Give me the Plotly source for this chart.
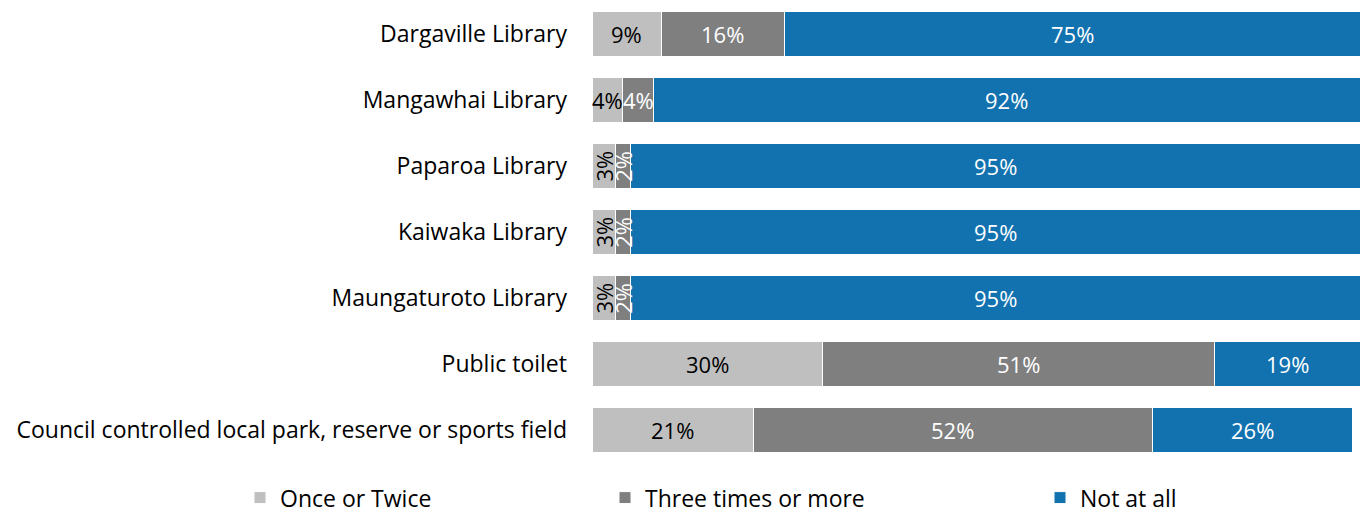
import plotly.graph_objects as go

categories = [
    "Dargaville Library",
    "Mangawhai Library",
    "Paparoa Library",
    "Kaiwaka Library",
    "Maungaturoto Library",
    "Public toilet",
    "Council controlled local park, reserve or sports field",
]
once_or_twice = [9, 4, 3, 3, 3, 30, 21]
three_or_more = [16, 4, 2, 2, 2, 51, 52]
not_at_all = [75, 92, 95, 95, 95, 19, 26]

series_names = ["Once or Twice", "Three times or more", "Not at all"]
series_values = [once_or_twice, three_or_more, not_at_all]
series_colors = ["#BFBFBF", "#7F7F7F", "#1272B0"]
label_colors = ["#000000", "#FFFFFF", "#FFFFFF"]

FONT = "Open Sans"

fig = go.Figure()
legend_ids = ["legend", "legend2", "legend3"]
for name, vals, col, lid in zip(series_names, series_values, series_colors, legend_ids):
    fig.add_trace(go.Bar(
        y=categories, x=vals, name=name, orientation="h",
        marker=dict(color=col, line=dict(color="white", width=1)),
        legend=lid, hoverinfo="x+y+name",
    ))

# value labels centred in each segment; narrow segments get vertical text
annotations = []
for i, cat in enumerate(categories):
    start = 0
    for vals, tcol in zip(series_values, label_colors):
        v = vals[i]
        annotations.append(dict(
            x=start + v / 2, y=cat, xref="x", yref="y",
            text=f"{v}%", showarrow=False,
            textangle=-90 if v <= 3 else 0,
            font=dict(family=FONT, size=22, color=tcol),
        ))
        start += v

legend_common = dict(
    orientation="h", yanchor="middle", xanchor="left",
    font=dict(family=FONT, size=23, color="#000000"),
    bgcolor="rgba(0,0,0,0)", itemwidth=30, tracegroupgap=0,
    borderwidth=0,
)
leg_y = -0.075
fig.update_layout(
    width=1360, height=513,
    margin=dict(l=592, r=0, t=1, b=50, autoexpand=False),
    paper_bgcolor="white", plot_bgcolor="white",
    barmode="stack", bargap=0.333,
    font=dict(family=FONT, size=23, color="#000000"),
    xaxis=dict(range=[0, 100], visible=False, fixedrange=True),
    yaxis=dict(autorange="reversed", showline=False, showgrid=False,
               ticks="", ticklabelstandoff=24,
               tickfont=dict(family=FONT, size=23, color="#000000")),
    annotations=annotations,
    legend=dict(**legend_common, x=(240 - 592) / 768, y=leg_y),
    legend2=dict(**legend_common, x=(605 - 592) / 768, y=leg_y),
    legend3=dict(**legend_common, x=(1040 - 592) / 768, y=leg_y),
    showlegend=True,
)

fig.write_html("out.html")
